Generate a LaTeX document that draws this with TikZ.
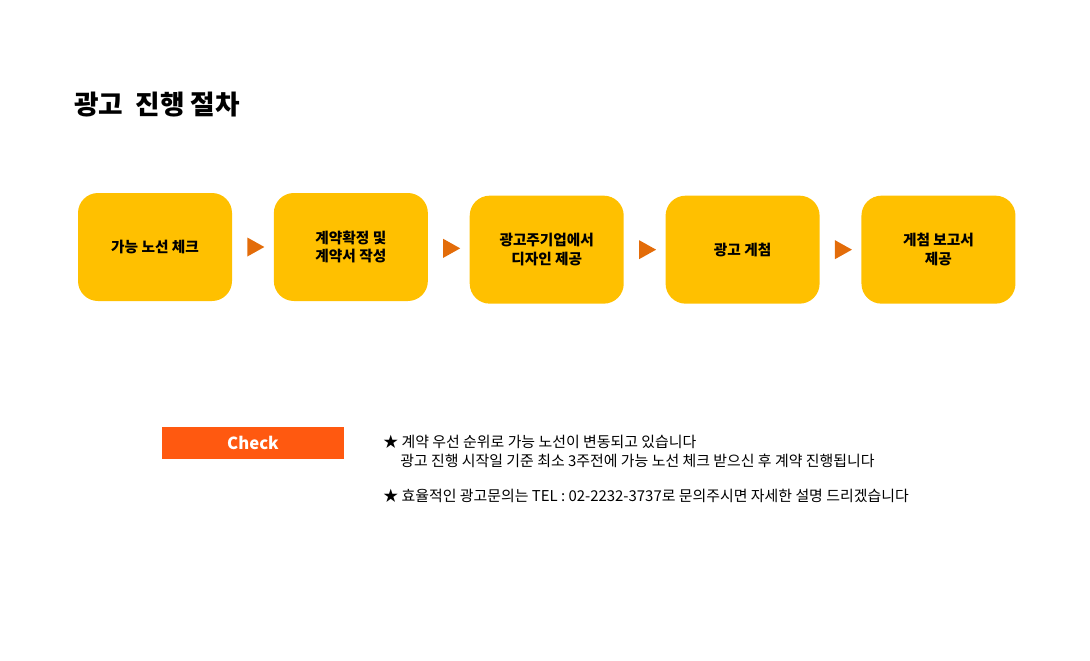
\documentclass[tikz,border=0pt]{standalone}
\usepackage{fontspec}
\setmainfont{Noto Sans CJK KR}
\usepackage{tikz}
\usetikzlibrary{shapes.geometric, positioning, calc}
\definecolor{stepyellow}{RGB}{255,192,0}
\definecolor{arrorange}{RGB}{227,108,9}
\definecolor{checkred}{RGB}{255,89,16}
\tikzset{
  stepbox/.style={rectangle,rounded corners=15pt,fill=stepyellow,align=center,
    minimum width=115.5pt,minimum height=81pt,inner sep=2pt,font=\fontsize{11}{14}\selectfont\bfseries},
  tri/.style={isosceles triangle,isosceles triangle stretches,fill=arrorange,
    minimum width=14.25pt,minimum height=12.75pt,inner sep=0pt,shape border rotate=0},
  checkbox/.style={rectangle,fill=checkred,text=white,minimum width=136.5pt,minimum height=24pt,
    inner sep=0pt,font=\fontsize{12.5}{14}\selectfont\bfseries},
  note/.style={anchor=west,inner sep=0pt,font=\fontsize{11.2}{13}\selectfont}
}

\begin{document}
\begin{tikzpicture}[x=0.75pt,y=-0.75pt,node distance=31pt]
  \useasboundingbox (0,0) rectangle (1090,661);
  \node[anchor=west,inner sep=0pt,font=\fontsize{20}{22}\selectfont\bfseries] (title) at (74,105) {광고 \ 진행 절차};

  \node[stepbox] (s1) at (155,247) {가능 노선 체크};
  \node[stepbox,right=of s1] (s2) {계약확정 및\\계약서 작성};
  \node[stepbox,right=of s2,yshift=-2pt] (s3) {광고주기업에서\\디자인 제공};
  \node[stepbox,right=of s3] (s4) {광고 게첨};
  \node[stepbox,right=of s4] (s5) {게첨 보고서\\제공};

  \foreach \a/\b in {s1/s2,s2/s3,s3/s4,s4/s5}
    \node[tri] (t\a) at ($(\a.east)!0.5!(\b.west)$) {};

  \node[checkbox] (check) at (253,443) {Check};

  \node[note] (n1) at (383,442) {★ 계약 우선 순위로 가능 노선이 변동되고 있습니다};
  \node[note] (n2) at (400,461) {광고 진행 시작일 기준 최소 3주전에 가능 노선 체크 받으신 후 계약 진행됩니다};
  \node[note] (n3) at (383,496) {★ 효율적인 광고문의는 TEL : 02-2232-3737로 문의주시면 자세한 설명 드리겠습니다};
\end{tikzpicture}
\end{document}
